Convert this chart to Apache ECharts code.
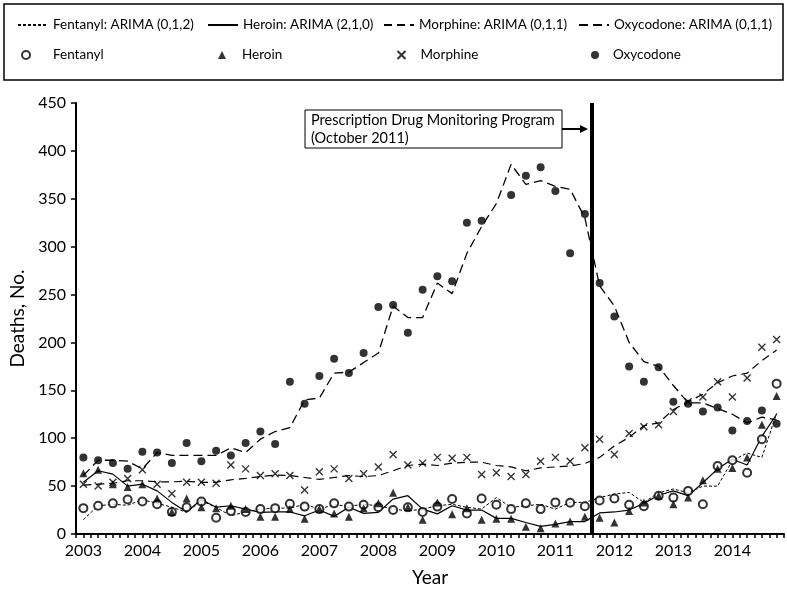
<!DOCTYPE html>
<html><head><meta charset="utf-8">
<script src="https://cdn.jsdelivr.net/npm/echarts@6/dist/echarts.min.js"></script>
<style>html,body{margin:0;padding:0;background:#fff}#c{width:787px;height:592px}</style>
</head><body><div id="c"></div>
<script>
const years = ['2003','2004','2005','2006','2007','2008','2009','2010','2011','2012','2013','2014'];
const yTicks = [0,50,100,150,200,250,300,350,400,450];

const fentanylObs = [27,29.5,32,36,34,31,23,28,34,17,24,23,26,27,31.6,28.6,
  26,32,28.6,30.6,28,25,28,23,28.6,36.5,21.5,37,30.6,26,32,26,
  33,32.6,29,35,37,30.5,29,40,38,45,31,71,77,64,99,157];
const heroinObs = [63.5,67,52,49,52,37,23,37,28,27,29.5,26,18,18,26,16,
  26,21.5,18,27,32,43,28,15,33,20.6,27,15,16,16,7.6,6,
  11,13,18,17,12,24,33,40,31,38,56,68,69,80,114,144];
const morphineObs = [52,50,54,58,67,52,42,54,54,53,72,68,61,63,61,46,
  65,68,58,63,70,83,72,74,80,79,80,62,64,60,62,76,
  80,76,90,99,83,105,112,114,128,138,143,159,143,163,195,203];
const oxycodoneObs = [80,77,74,68,86,85,74,95,76,87,82,95,107,94,159,136,
  165,183,168,189,237,239,210,255,269,264,325,327,410,354,374,383,
  358,293,334,262,227,175,159,174,138,136,128,132,108,118,129,115];

const fentanylFit = [15,29.5,31,30,35.8,32,28,22.6,34.7,27.8,19,23,26,27,27,31,
  26,30.6,29,31,29.5,26,24,26,29.5,31,27.8,26,38,27.8,29.5,31,
  26,33,33,38,41.7,43.4,33,43,47,43,50,50,76.6,84.5,80,126];
const heroinFit = [54,66,62.5,50,52,45,33,23,36,28,29.5,26,22.6,23,23,19,
  25,18.4,28,21.5,22.6,36.5,40,26,21,29.5,25,25,16.3,16.3,12,8,
  10,13,13,22,23,25,32,40.5,45,40,53.5,68,78,72,102,125];
const morphineFit = [51,52,53,55.6,55.6,54.5,54.5,55,54,54,56.6,58,60,61.5,61,59,
  57,59,61,60,61,66,71.5,73,71.5,74,75,75,71.5,70,66,69,
  70,71,73.6,80,92,101,113,116,130,138,146,158,165,168,181,192];
const oxycodoneFit = [61,77,77,76,68,85,82,82,82,82,90,85,99,107,111,140,
  142,168,169,179,189,238,226,226,262,251,293,321,345,386,365,369,
  363,360,330,259,238,200,180,175,155,137,137,131,125,116,122,119];

const pdmpLabel = ['Prescription Drug Monitoring Program', '(October 2011)'];
const pdmpX = 2011.62;

const quarterX = [];
years.forEach(y => { for (let q = 0; q < 4; q++) quarterX.push(+y + q / 4); });
const pairs = arr => arr.map((v, i) => [quarterX[i], v]);

const FONT = 'Lato';
const chart = echarts.init(document.getElementById('c'), null, {renderer: 'canvas'});

const lineSeries = (name, data, type, width, z) => ({
  name, type: 'line', data: pairs(data), symbol: 'none', z,
  lineStyle: {color: '#000', width, type}, itemStyle: {color: '#000'}, silent: true
});
const scatterSeries = (name, data, symbol, size, itemStyle) => ({
  name, type: 'scatter', data: pairs(data), symbol, symbolSize: size, z: 5,
  itemStyle, silent: true
});

const lineLegend = (left, name) => ({
  left, top: 13, itemWidth: 30, itemHeight: 14, selectedMode: false,
  data: [{name, itemStyle: {color: 'rgba(0,0,0,0)', borderWidth: 0, opacity: 0}}],
  textStyle: {fontFamily: FONT, fontSize: 13.5, color: '#000'}
});
const markLegend = (left, name, pad) => ({
  left, top: 43, itemWidth: 8, itemHeight: 8, selectedMode: false,
  data: [name],
  textStyle: {fontFamily: FONT, fontSize: 13.5, color: '#000', padding: [0, 0, 0, pad]}
});

chart.setOption({
  animation: false,
  backgroundColor: '#fff',
  textStyle: {fontFamily: FONT},
  grid: {left: 71.6, right: 3, top: 103, bottom: 57},
  legend: [
    lineLegend(12, 'Fentanyl: ARIMA (0,1,2)'),
    lineLegend(202, 'Heroin: ARIMA (2,1,0)'),
    lineLegend(378, 'Morphine: ARIMA (0,1,1)'),
    lineLegend(573, 'Oxycodone: ARIMA (0,1,1)'),
    markLegend(16, 'Fentanyl', 18),
    markLegend(213, 'Heroin', 11),
    markLegend(390, 'Morphine', 10),
    markLegend(586, 'Oxycodone', 9)
  ],
  xAxis: {
    type: 'value', min: 2002.875, max: 2014.875, interval: 0.125,
    name: 'Year', nameLocation: 'middle', nameGap: 34,
    nameTextStyle: {fontFamily: FONT, fontSize: 19, color: '#000'},
    axisLine: {lineStyle: {color: '#000', width: 2}},
    axisTick: {show: true, length: 4, inside: false, lineStyle: {color: '#000', width: 1.5}},
    axisLabel: {
      fontFamily: FONT, fontSize: 16, color: '#000', margin: 9, showMinLabel: true, showMaxLabel: true,
      formatter: v => { const r = Math.round(v); return Math.abs(v - r) < 1e-6 && years.includes(String(r)) ? String(r) : ''; }
    },
    splitLine: {show: false}
  },
  yAxis: {
    type: 'value', min: yTicks[0], max: yTicks[yTicks.length - 1], interval: 50,
    name: 'Deaths, No.', nameLocation: 'middle', nameGap: 49, nameRotate: 90,
    nameTextStyle: {fontFamily: FONT, fontSize: 19, color: '#000'},
    axisLine: {show: true, lineStyle: {color: '#000', width: 2}},
    axisTick: {show: true, length: 5, lineStyle: {color: '#000', width: 1.5}},
    axisLabel: {fontFamily: FONT, fontSize: 16, color: '#000', margin: 10},
    splitLine: {show: false}
  },
  series: [
    Object.assign(lineSeries('Fentanyl: ARIMA (0,1,2)', fentanylFit, [3, 2], 1, 3), {
      markLine: {
        silent: true, symbol: 'none', label: {show: false},
        lineStyle: {color: '#000', width: 4, type: 'solid'},
        data: [{xAxis: pdmpX}]
      }
    }),
    lineSeries('Heroin: ARIMA (2,1,0)', heroinFit, 'solid', 1.2, 3),
    lineSeries('Morphine: ARIMA (0,1,1)', morphineFit, [8, 5], 1.2, 3),
    lineSeries('Oxycodone: ARIMA (0,1,1)', oxycodoneFit, [9, 5], 1.3, 3),
    scatterSeries('Fentanyl', fentanylObs, 'emptyCircle', 8, {color: '#000', borderWidth: 1.2}),
    scatterSeries('Heroin', heroinObs, 'triangle', 8, {color: '#000'}),
    scatterSeries('Morphine', morphineObs, 'path://M0,0L10,10M10,0L0,10', 7,
      {color: 'none', borderColor: '#000', borderWidth: 1.4}),
    scatterSeries('Oxycodone', oxycodoneObs, 'circle', 8, {color: '#000'})
  ],
  graphic: [
    {type: 'rect', shape: {x: 4, y: 4, width: 779, height: 76}, style: {fill: 'none', stroke: '#000', lineWidth: 1.5}, silent: true},
    {type: 'rect', shape: {x: 305, y: 110, width: 257, height: 38}, style: {fill: '#fff', stroke: '#000', lineWidth: 1}, silent: true, z: 10},
    {type: 'text', x: 311, y: 111, style: {text: pdmpLabel.join('\n'), fontFamily: FONT, fontSize: 14.5, lineHeight: 18, fill: '#000'}, silent: true, z: 11},
    {type: 'line', shape: {x1: 562, y1: 129, x2: 582, y2: 129}, style: {stroke: '#000', lineWidth: 2}, silent: true, z: 10},
    {type: 'polygon', shape: {points: [[580, 125], [588, 129], [580, 133]]}, style: {fill: '#000'}, silent: true, z: 10}
  ]
});
</script></body></html>
